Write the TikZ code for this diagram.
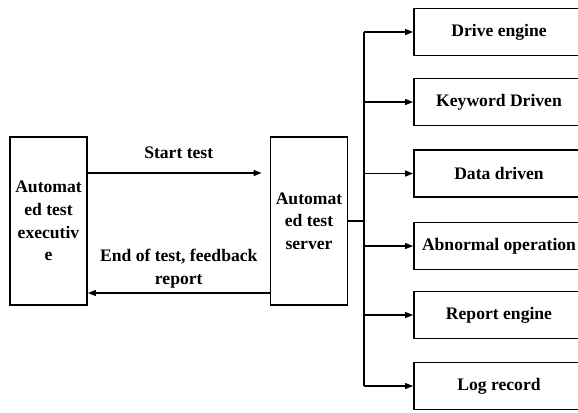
\documentclass[tikz,border=0pt]{standalone}
\usepackage{fontspec}
\setmainfont{Liberation Serif}
\usetikzlibrary{arrows.meta}
\tikzset{
  box/.style={draw, line width=1.4pt, rectangle, align=center, inner sep=2pt,
    font=\fontsize{13.2}{17}\selectfont\bfseries},
  unit/.style={box, minimum width=57.75pt, minimum height=126pt},
  module/.style={box, minimum width=127.5pt, minimum height=35.25pt},
  flow/.style={line width=0.9pt, -{Triangle[length=6pt,width=4.5pt]}},
  lbl/.style={font=\fontsize{13.2}{17}\selectfont\bfseries, align=center}
}

\begin{document}
\begin{tikzpicture}[x=0.75pt, y=-0.75pt]
    \useasboundingbox (0,0) rectangle (578,412);
    \clip (0,0) rectangle (578,412);

    \node[unit] (exec)   at (48.5, 221) {Automat\\ed test\\executiv\\e};
    \node[unit] (server) at (309, 221)  {Automat\\ed test\\server};

    \node[module] (drive)    at (499, 32)    {Drive engine};
    \node[module] (keyword)  at (499, 102)   {Keyword Driven};
    \node[module] (data)     at (499, 173.5) {Data driven};
    \node[module] (abnormal) at (499, 246)   {Abnormal operation};
    \node[module] (report)   at (499, 315)   {Report engine};
    \node[module] (logrec)   at (499, 386)   {Log record};

    \draw[flow, shorten >=6pt] ([yshift=36pt]exec.east) -- ([yshift=36pt]server.west)
        node[lbl, midway, above=7pt] {Start test};
    \draw[flow] ([yshift=-54pt]server.west) -- ([yshift=-54pt]exec.east)
        node[lbl, midway, above=0pt] {End of test, feedback\\report};

    \coordinate (trunk) at (364, 221);
    \draw[line width=0.9pt] (server.east) -- (trunk);
    \draw[line width=0.9pt] (trunk |- drive) -- (trunk |- logrec);
    \foreach \m in {drive, keyword, data, abnormal, report, logrec}
      \draw[flow] (trunk |- \m) -- (\m);
\end{tikzpicture}
\end{document}
